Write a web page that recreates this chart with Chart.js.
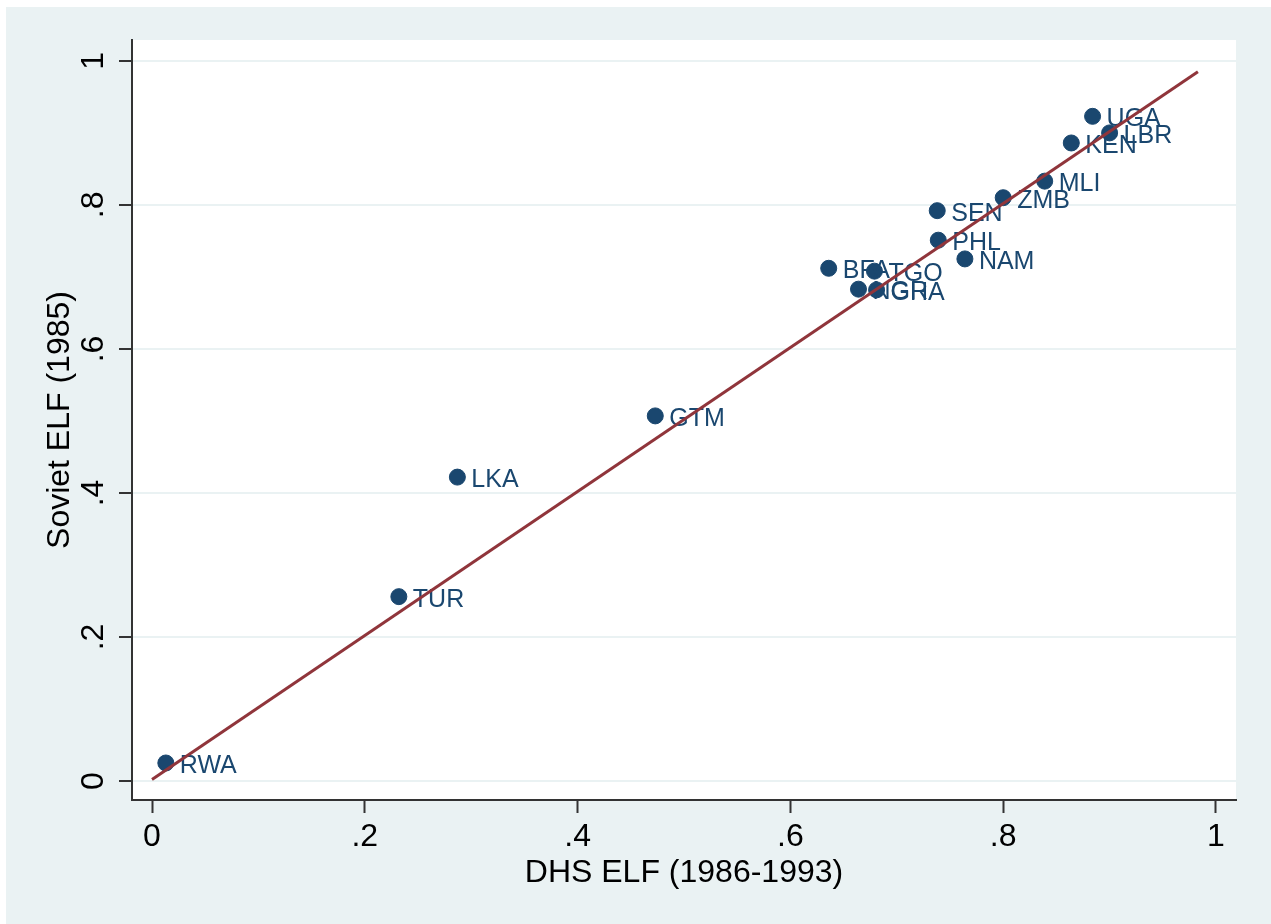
<!DOCTYPE html>
<html>
<head>
<meta charset="utf-8">
<script src="https://cdn.jsdelivr.net/npm/chart.js@4.4.1/dist/chart.umd.min.js"></script>
<style>
  body { margin: 0; background: #ffffff; }
  canvas { display: block; }
</style>
</head>
<body>
<canvas id="myChart" width="1271" height="924"></canvas>
<script>
// country codes and ELF values
const countries = ['RWA', 'TUR', 'LKA', 'GTM', 'BFA', 'TGO', 'NGR', 'GHA', 'SEN', 'PHL', 'NAM', 'ZMB', 'MLI', 'KEN', 'UGA', 'LBR'];
const dhsElf    = [0.013, 0.232, 0.287, 0.473, 0.636, 0.679, 0.664, 0.681, 0.738, 0.739, 0.764, 0.800, 0.839, 0.864, 0.884, 0.900];
const sovietElf = [0.025, 0.256, 0.422, 0.507, 0.712, 0.708, 0.683, 0.682, 0.792, 0.751, 0.725, 0.810, 0.833, 0.886, 0.923, 0.900];

// fitted line end points
const fitX = [0, 0.983];
const fitY = [0.002, 0.985];

const xTicks = [0, 0.2, 0.4, 0.6, 0.8, 1];
const xTickLabels = ['0', '.2', '.4', '.6', '.8', '1'];
const yTicks = [0, 0.2, 0.4, 0.6, 0.8, 1];
const yTickLabels = ['0', '.2', '.4', '.6', '.8', '1'];

const navy = '#1a476f';
const maroon = '#90353b';
const paleBlue = '#eaf2f3';
const axisGray = '#333333';

Chart.defaults.font.family = '"Liberation Sans", Arial, sans-serif';

const pointData = dhsElf.map((x, i) => ({ x: x, y: sovietElf[i] }));
const lineData = fitX.map((x, i) => ({ x: x, y: fitY[i] }));

const background = {
  id: 'background',
  beforeDraw(chart) {
    const ctx = chart.ctx;
    const a = chart.chartArea;
    ctx.save();
    ctx.fillStyle = '#ffffff';
    ctx.fillRect(0, 0, chart.width, chart.height);
    ctx.fillStyle = paleBlue;
    ctx.fillRect(6, 7, chart.width - 6, chart.height - 7);
    ctx.fillStyle = '#ffffff';
    ctx.fillRect(a.left, a.top, a.right - a.left, a.bottom - a.top);
    ctx.restore();
  }
};

// marker labels at 3 o'clock, drawn before the fit line
const markerLabels = {
  id: 'markerLabels',
  afterDatasetDraw(chart, args) {
    if (args.index !== 0) return;
    const ctx = chart.ctx;
    ctx.save();
    ctx.font = '25px "Liberation Sans", Arial, sans-serif';
    ctx.fillStyle = navy;
    ctx.textAlign = 'left';
    ctx.textBaseline = 'middle';
    args.meta.data.forEach((pt, i) => {
      ctx.fillText(countries[i], pt.x + 14, pt.y + 3);
    });
    ctx.restore();
  }
};

const ctx = document.getElementById('myChart').getContext('2d');
new Chart(ctx, {
  type: 'scatter',
  data: {
    datasets: [{
      label: 'Soviet ELF',
      data: pointData,
      backgroundColor: navy,
      borderColor: navy,
      pointRadius: 8,
      pointHoverRadius: 8,
      order: 1
    }, {
      type: 'line',
      label: 'Fitted values',
      data: lineData,
      borderColor: maroon,
      borderWidth: 3,
      pointRadius: 0,
      fill: false,
      order: 0
    }]
  },
  options: {
    responsive: false,
    animation: false,
    events: [],
    layout: { padding: { left: 0, top: 40, right: 35, bottom: 0 } },
    plugins: {
      legend: { display: false },
      tooltip: { enabled: false }
    },
    scales: {
      x: {
        type: 'linear',
        min: -0.0188,
        max: 1.0188,
        afterBuildTicks: (scale) => { scale.ticks = xTicks.map(v => ({ value: v })); },
        afterFit: (scale) => { scale.height = 124; },
        ticks: {
          color: '#000',
          font: { size: 32 },
          padding: 5,
          maxRotation: 0,
          minRotation: 0,
          callback: (v, i) => xTickLabels[i]
        },
        grid: {
          drawOnChartArea: false,
          drawTicks: true,
          tickLength: 13,
          tickWidth: 2,
          tickColor: axisGray
        },
        border: { display: true, color: axisGray, width: 2 },
        title: {
          display: true,
          text: 'DHS ELF (1986-1993)',
          color: '#000',
          font: { size: 32 },
          padding: { top: 0, bottom: 32 }
        }
      },
      y: {
        type: 'linear',
        min: -0.0264,
        max: 1.029,
        afterBuildTicks: (scale) => { scale.ticks = yTicks.map(v => ({ value: v })); },
        afterFit: (scale) => { scale.width = 132; },
        ticks: {
          color: '#000',
          font: { size: 32 },
          padding: 11,
          minRotation: 90,
          maxRotation: 90,
          crossAlign: 'center',
          callback: (v, i) => yTickLabels[i]
        },
        grid: {
          color: paleBlue,
          lineWidth: 2,
          drawTicks: true,
          tickLength: 13,
          tickWidth: 2,
          tickColor: axisGray
        },
        border: { display: true, color: axisGray, width: 2 },
        title: {
          display: true,
          text: 'Soviet ELF (1985)',
          color: '#000',
          font: { size: 32 },
          padding: { top: 41, bottom: 0 }
        }
      }
    }
  },
  plugins: [background, markerLabels]
});
</script>
</body>
</html>
